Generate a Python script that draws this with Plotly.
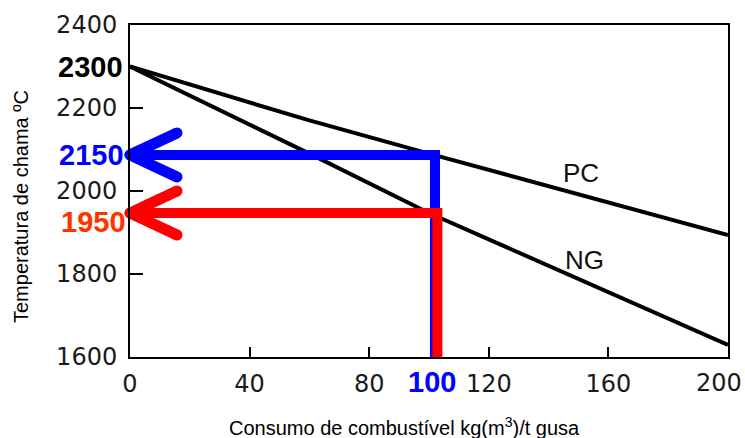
import plotly.graph_objects as go

# ---- data ----
consumo = [0, 60, 100, 160, 200]
pc_temp = [2300, 2170, 2090, 1972, 1894]
ng_temp = [2300, 2090, 1947, 1756, 1629]

x_ticks = [0, 40, 80, 120, 160, 200]
x_ticklabels = ["0", "40", "80", "120", "160", "200"]
y_ticks = [1600, 1800, 2000, 2200, 2400]
y_ticklabels = ["1600", "1800", "2000", "2200", "2400"]

start_temp = 2300          # common starting temperature
marked_x = 102.4           # drawn position of the marked consumption
marked_x_label = "100"
marked_pc = 2087           # drawn position of PC arrow
marked_pc_label = "2150"
marked_ng = 1947           # drawn position of NG arrow
marked_ng_label = "1950"

series_labels = [("PC", 150.8, 2043), ("NG", 152.0, 1834)]

# ---- styling ----
X0, X1, Y0, Y1 = 0, 200, 1600, 2400
W, H = 745, 438
ML, MR, MT, MB = 130, 17, 25, 81
pw, ph = W - ML - MR, H - MT - MB
px_x = (X1 - X0) / pw   # data per pixel
px_y = (Y1 - Y0) / ph

BLUE = "#0000FF"
RED = "#FF0000"
ORANGE = "#FF3300"

fig = go.Figure()

fig.add_trace(go.Scatter(x=consumo, y=pc_temp, mode="lines",
                         line=dict(color="black", width=4), cliponaxis=False,
                         showlegend=False, hoverinfo="skip"))
fig.add_trace(go.Scatter(x=consumo, y=ng_temp, mode="lines",
                         line=dict(color="black", width=4), cliponaxis=False,
                         showlegend=False, hoverinfo="skip"))


def arrow(yv, xv, color, xoff=0.0):
    # shaft: from axis to the marked consumption and down to the x axis
    fig.add_trace(go.Scatter(x=[X0, xv + xoff, xv + xoff], y=[yv, yv, Y0], mode="lines",
                             line=dict(color=color, width=10), cliponaxis=False,
                             showlegend=False, hoverinfo="skip"))
    # chevron head
    dx = 47 * px_x
    dy = 22 * px_y
    fig.add_trace(go.Scatter(x=[X0 + dx, X0, None, X0 + dx, X0],
                             y=[yv + dy, yv, None, yv - dy, yv],
                             mode="lines+markers",
                             line=dict(color=color, width=11),
                             marker=dict(color=color, size=11),
                             cliponaxis=False, showlegend=False, hoverinfo="skip"))


arrow(marked_pc, marked_x, BLUE, xoff=-0.4)
arrow(marked_ng, marked_x, RED, xoff=0.4)

TICKFONT = dict(family="DejaVu Sans", size=24, color="#1a1a1a")

fig.update_layout(
    width=W, height=H,
    margin=dict(l=ML, r=MR, t=MT, b=MB, autoexpand=False),
    paper_bgcolor="white", plot_bgcolor="white",
    # the last x tick (at the right frame) gets its label as an annotation below
    xaxis=dict(range=[X0, X1], tickvals=x_ticks[:-1], ticktext=x_ticklabels[:-1],
               ticks="inside", ticklen=10, tickwidth=2, tickcolor="black",
               showline=True, linecolor="black", linewidth=2, mirror=True,
               showgrid=False, zeroline=False, tickfont=TICKFONT,
               ticklabelstandoff=4, automargin=False),
    yaxis=dict(range=[Y0, Y1], tickvals=y_ticks, ticktext=y_ticklabels,
               ticks="inside", ticklen=13, tickwidth=2, tickcolor="black",
               showline=True, linecolor="black", linewidth=2, mirror=True,
               showgrid=False, zeroline=False, tickfont=TICKFONT,
               ticklabelstandoff=6, automargin=False),
    font=dict(family="Liberation Sans, Arial, sans-serif"),
)

BOLD = "Liberation Sans, Arial, sans-serif"
ann = []
ann.append(dict(x=x_ticks[-1], xref="x", xanchor="right", xshift=16,
                y=-26 / ph, yref="paper", yanchor="middle",
                text=x_ticklabels[-1], showarrow=False, font=TICKFONT))
ann.append(dict(x=-5 / pw, xref="paper", y=start_temp, yref="y", text="<b>%d</b>" % start_temp,
                xanchor="right", yanchor="middle", showarrow=False,
                font=dict(family=BOLD, size=29, color="black")))
ann.append(dict(x=-4 / pw, xref="paper", y=marked_pc, yref="y", text="<b>%s</b>" % marked_pc_label,
                xanchor="right", yanchor="middle", showarrow=False,
                font=dict(family=BOLD, size=29, color=BLUE)))
ann.append(dict(x=-2 / pw, xref="paper", y=marked_ng, yref="y", text="<b>%s</b>" % marked_ng_label,
                xanchor="right", yanchor="middle", yshift=-9, showarrow=False,
                font=dict(family=BOLD, size=29, color=ORANGE)))
ann.append(dict(x=marked_x - 1.5, xref="x", y=-25 / ph, yref="paper", text="<b>%s</b>" % marked_x_label,
                xanchor="center", yanchor="middle", showarrow=False,
                font=dict(family=BOLD, size=29, color=BLUE)))
for name, lx, ly in series_labels:
    ann.append(dict(x=lx, y=ly, xref="x", yref="y", text=name, showarrow=False,
                    xanchor="center", yanchor="middle",
                    font=dict(family="Liberation Sans, Arial", size=26, color="#111111")))
ann.append(dict(x=-109 / pw, xref="paper", y=150 / ph, yref="paper",
                text="Temperatura de chama ºC", textangle=-90, showarrow=False,
                xanchor="center", yanchor="middle",
                font=dict(family="Liberation Sans, Arial", size=20, color="black")))
ann.append(dict(x=274 / pw, xref="paper", y=-69 / ph, yref="paper",
                text="Consumo de combustível kg(m<sup>3</sup>)/t gusa", showarrow=False,
                xanchor="center", yanchor="middle",
                font=dict(family="Liberation Sans, Arial", size=20, color="black")))
fig.update_layout(annotations=ann)

fig.write_html("out.html", config={"displayModeBar": False},
               post_script="document.body.style.margin='0px';")
